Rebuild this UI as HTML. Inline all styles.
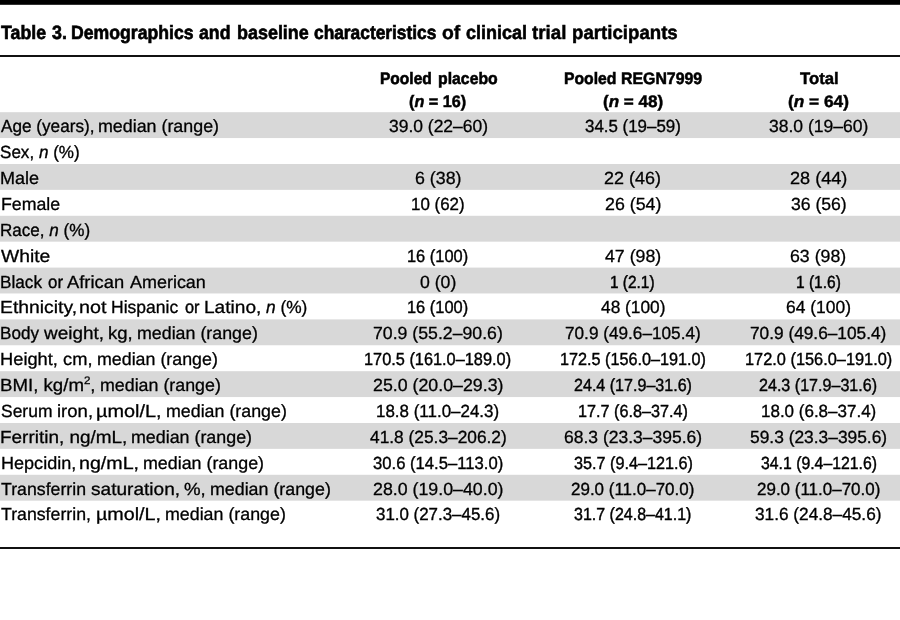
<!DOCTYPE html>
<html lang="en">
<head>
<meta charset="utf-8">
<title>Table 3. Demographics and baseline characteristics of clinical trial participants</title>
<style>
html,body{margin:0;padding:0;background:#fff;}
#page{will-change:transform;position:relative;width:900px;height:620px;overflow:hidden;background:#fff;color:#000;font-family:'Liberation Sans', 'DejaVu Sans', sans-serif;}
.bg{position:absolute;left:0;top:0;display:block;}
.w{margin:0;padding:0;font-size:0;line-height:0;height:0;font-weight:normal;}
.t{text-rendering:geometricPrecision;position:absolute;white-space:nowrap;line-height:26px;height:26px;transform-origin:0 50%;color:#000;}
.title{font-weight:bold;font-size:19.3px;}
.th{font-weight:bold;font-size:16.6px;}
.lab,.val{font-size:17.6px;}
.t i{font-style:italic;}
.t sup{font-size:0.62em;line-height:0;vertical-align:baseline;position:relative;top:-0.62em;}
</style>
</head>
<body>
<div id="page">
<svg class="bg" width="900" height="620" viewBox="0 0 900 620" aria-hidden="true">
<rect x="0" y="0" width="900" height="4.8" fill="#000"/>
<rect x="0" y="55" width="900" height="2" fill="#111"/>
<rect x="0" y="112.20" width="900" height="25.85" fill="#d8d8d8"/>
<rect x="0" y="164.00" width="900" height="25.85" fill="#d8d8d8"/>
<rect x="0" y="215.80" width="900" height="25.85" fill="#d8d8d8"/>
<rect x="0" y="267.60" width="900" height="25.85" fill="#d8d8d8"/>
<rect x="0" y="319.40" width="900" height="25.85" fill="#d8d8d8"/>
<rect x="0" y="371.20" width="900" height="25.85" fill="#d8d8d8"/>
<rect x="0" y="423.00" width="900" height="25.85" fill="#d8d8d8"/>
<rect x="0" y="474.80" width="900" height="25.85" fill="#d8d8d8"/>
<rect x="0" y="547" width="900" height="2" fill="#111"/>
</svg>

<h1 class="w">
<span class="t title" style="left:1.18px;top:21.00px;-webkit-text-stroke:0.63px #000;transform:scaleX(0.9206)">Table</span>
<span class="t title" style="left:52.08px;top:21.00px;-webkit-text-stroke:0.62px #000;transform:scaleX(0.9245)">3.</span>
<span class="t title" style="left:71.49px;top:21.00px;-webkit-text-stroke:0.64px #000;transform:scaleX(0.9147)">Demographics</span>
<span class="t title" style="left:199.07px;top:21.00px;-webkit-text-stroke:0.64px #000;transform:scaleX(0.9173)">and</span>
<span class="t title" style="left:237.49px;top:21.00px;-webkit-text-stroke:0.61px #000;transform:scaleX(0.9304)">baseline</span>
<span class="t title" style="left:313.88px;top:21.00px;-webkit-text-stroke:0.68px #000;transform:scaleX(0.8990)">characteristics</span>
<span class="t title" style="left:442.03px;top:21.00px;-webkit-text-stroke:0.45px #000;transform:scaleX(1.0017)">of</span>
<span class="t title" style="left:466.14px;top:21.00px;-webkit-text-stroke:0.60px #000;transform:scaleX(0.9342)">clinical</span>
<span class="t title" style="left:532.12px;top:21.00px;-webkit-text-stroke:0.51px #000;transform:scaleX(0.9728)">trial</span>
<span class="t title" style="left:571.76px;top:21.00px;-webkit-text-stroke:0.52px #000;transform:scaleX(0.9676)">participants</span>
</h1>
<div class="w colhead">
<span class="t th" style="left:379.72px;top:66.00px;-webkit-text-stroke:0.59px #000;transform:scaleX(0.9371)">Pooled</span>
<span class="t th" style="left:437.80px;top:66.00px;-webkit-text-stroke:0.55px #000;transform:scaleX(0.9526)">placebo</span>
<span class="t th" style="left:409.40px;top:89.00px;-webkit-text-stroke:0.50px #000;transform:scaleX(0.9765)">(<i>n</i> = 16)</span>
</div>
<div class="w colhead">
<span class="t th" style="left:563.61px;top:66.00px;-webkit-text-stroke:0.56px #000;transform:scaleX(0.9486)">Pooled</span>
<span class="t th" style="left:621.03px;top:66.00px;-webkit-text-stroke:0.54px #000;transform:scaleX(0.9568)">REGN7999</span>
<span class="t th" style="left:603.08px;top:89.00px;-webkit-text-stroke:0.45px #000;transform:scaleX(1.0289)">(<i>n</i> = 48)</span>
</div>
<div class="w colhead">
<span class="t th" style="left:799.52px;top:66.00px;-webkit-text-stroke:0.45px #000;transform:scaleX(1.0090)">Total</span>
<span class="t th" style="left:788.47px;top:89.00px;-webkit-text-stroke:0.45px #000;transform:scaleX(1.0407)">(<i>n</i> = 64)</span>
</div>
<div class="w row">
<span class="t lab" style="left:0.63px;top:113.00px;-webkit-text-stroke:0.33px #000;transform:scaleX(0.9753)">Age (years),</span>
<span class="t lab" style="left:98.27px;top:113.00px;-webkit-text-stroke:0.30px #000;transform:scaleX(1.0142)">median (range)</span>
<span class="t val" style="left:388.68px;top:113.00px;-webkit-text-stroke:0.31px #000;transform:scaleX(0.9927)">39.0 (22–60)</span>
<span class="t val" style="left:585.09px;top:113.00px;-webkit-text-stroke:0.36px #000;transform:scaleX(0.9602)">34.5 (19–59)</span>
<span class="t val" style="left:768.65px;top:113.00px;-webkit-text-stroke:0.31px #000;transform:scaleX(0.9959)">38.0 (19–60)</span>
</div>
<div class="w row">
<span class="t lab" style="left:0.31px;top:139.00px;-webkit-text-stroke:0.34px #000;transform:scaleX(0.9699)">Sex, <i>n</i> (%)</span>
</div>
<div class="w row">
<span class="t lab" style="left:0.11px;top:165.00px;-webkit-text-stroke:0.30px #000;transform:scaleX(1.0253)">Male</span>
<span class="t val" style="left:414.80px;top:165.00px;-webkit-text-stroke:0.30px #000;transform:scaleX(1.0117)">6 (38)</span>
<span class="t val" style="left:604.32px;top:165.00px;-webkit-text-stroke:0.30px #000;transform:scaleX(1.0200)">22 (46)</span>
<span class="t val" style="left:789.83px;top:165.00px;-webkit-text-stroke:0.30px #000;transform:scaleX(1.0296)">28 (44)</span>
</div>
<div class="w row">
<span class="t lab" style="left:0.56px;top:191.00px;-webkit-text-stroke:0.30px #000;transform:scaleX(1.0087)">Female</span>
<span class="t val" style="left:411.08px;top:191.00px;-webkit-text-stroke:0.35px #000;transform:scaleX(0.9614)">10 (62)</span>
<span class="t val" style="left:604.75px;top:191.00px;-webkit-text-stroke:0.30px #000;transform:scaleX(1.0112)">26 (54)</span>
<span class="t val" style="left:790.98px;top:191.00px;-webkit-text-stroke:0.30px #000;transform:scaleX(1.0000)">36 (56)</span>
</div>
<div class="w row">
<span class="t lab" style="left:0.28px;top:217.00px;-webkit-text-stroke:0.34px #000;transform:scaleX(0.9696)">Race, <i>n</i> (%)</span>
</div>
<div class="w row">
<span class="t lab" style="left:0.77px;top:243.00px;-webkit-text-stroke:0.30px #000;transform:scaleX(1.0963)">White</span>
<span class="t val" style="left:407.31px;top:243.00px;-webkit-text-stroke:0.40px #000;transform:scaleX(0.9324)">16 (100)</span>
<span class="t val" style="left:605.24px;top:243.00px;-webkit-text-stroke:0.30px #000;transform:scaleX(1.0086)">47 (98)</span>
<span class="t val" style="left:790.44px;top:243.00px;-webkit-text-stroke:0.30px #000;transform:scaleX(1.0069)">63 (98)</span>
</div>
<div class="w row">
<span class="t lab" style="left:0.25px;top:269.00px;-webkit-text-stroke:0.33px #000;transform:scaleX(0.9767)">Black</span>
<span class="t lab" style="left:47.70px;top:269.00px;-webkit-text-stroke:0.36px #000;transform:scaleX(0.9598)">or</span>
<span class="t lab" style="left:67.49px;top:269.00px;-webkit-text-stroke:0.30px #000;transform:scaleX(1.0425)">African</span>
<span class="t lab" style="left:129.50px;top:269.00px;-webkit-text-stroke:0.30px #000;transform:scaleX(1.0204)">American</span>
<span class="t val" style="left:420.06px;top:269.00px;-webkit-text-stroke:0.30px #000;transform:scaleX(1.0037)">0 (0)</span>
<span class="t val" style="left:610.48px;top:269.00px;-webkit-text-stroke:0.49px #000;transform:scaleX(0.8753)">1 (2.1)</span>
<span class="t val" style="left:795.61px;top:269.00px;-webkit-text-stroke:0.48px #000;transform:scaleX(0.8810)">1 (1.6)</span>
</div>
<div class="w row">
<span class="t lab" style="left:0.43px;top:294.00px;-webkit-text-stroke:0.30px #000;transform:scaleX(1.0988)">Ethnicity,</span>
<span class="t lab" style="left:79.28px;top:294.00px;-webkit-text-stroke:0.30px #000;transform:scaleX(1.1207)">not</span>
<span class="t lab" style="left:111.39px;top:294.00px;-webkit-text-stroke:0.31px #000;transform:scaleX(0.9955)">Hispanic</span>
<span class="t lab" style="left:184.51px;top:294.00px;-webkit-text-stroke:0.40px #000;transform:scaleX(0.9318)">or</span>
<span class="t lab" style="left:204.46px;top:294.00px;-webkit-text-stroke:0.30px #000;transform:scaleX(1.0848)">Latino,</span>
<span class="t lab" style="left:265.58px;top:294.00px;-webkit-text-stroke:0.32px #000;transform:scaleX(0.9840)"><i>n</i> (%)</span>
<span class="t val" style="left:407.31px;top:294.00px;-webkit-text-stroke:0.40px #000;transform:scaleX(0.9324)">16 (100)</span>
<span class="t val" style="left:600.99px;top:294.00px;-webkit-text-stroke:0.32px #000;transform:scaleX(0.9838)">48 (100)</span>
<span class="t val" style="left:786.00px;top:294.00px;-webkit-text-stroke:0.31px #000;transform:scaleX(0.9913)">64 (100)</span>
</div>
<div class="w row">
<span class="t lab" style="left:0.26px;top:320.00px;-webkit-text-stroke:0.34px #000;transform:scaleX(0.9721)">Body</span>
<span class="t lab" style="left:43.93px;top:320.00px;-webkit-text-stroke:0.30px #000;transform:scaleX(1.0757)">weight,</span>
<span class="t lab" style="left:107.66px;top:320.00px;-webkit-text-stroke:0.30px #000;transform:scaleX(1.0536)">kg,</span>
<span class="t lab" style="left:136.60px;top:320.00px;-webkit-text-stroke:0.30px #000;transform:scaleX(1.0128)">median (range)</span>
<span class="t val" style="left:373.48px;top:320.00px;-webkit-text-stroke:0.30px #000;transform:scaleX(1.0051)">70.9 (55.2–90.6)</span>
<span class="t val" style="left:565.15px;top:320.00px;-webkit-text-stroke:0.33px #000;transform:scaleX(0.9769)">70.9 (49.6–105.4)</span>
<span class="t val" style="left:750.45px;top:320.00px;-webkit-text-stroke:0.33px #000;transform:scaleX(0.9812)">70.9 (49.6–105.4)</span>
</div>
<div class="w row">
<span class="t lab" style="left:0.27px;top:346.00px;-webkit-text-stroke:0.30px #000;transform:scaleX(1.0394)">Height, cm,</span>
<span class="t lab" style="left:96.60px;top:346.00px;-webkit-text-stroke:0.30px #000;transform:scaleX(1.0128)">median (range)</span>
<span class="t val" style="left:364.39px;top:346.00px;-webkit-text-stroke:0.41px #000;transform:scaleX(0.9281)">170.5 (161.0–189.0)</span>
<span class="t val" style="left:559.72px;top:346.00px;-webkit-text-stroke:0.42px #000;transform:scaleX(0.9212)">172.5 (156.0–191.0)</span>
<span class="t val" style="left:744.61px;top:346.00px;-webkit-text-stroke:0.40px #000;transform:scaleX(0.9295)">172.0 (156.0–191.0)</span>
</div>
<div class="w row">
<span class="t lab" style="left:0.17px;top:372.00px;-webkit-text-stroke:0.30px #000;transform:scaleX(1.0598)">BMI, kg/m<sup>2</sup>,</span>
<span class="t lab" style="left:99.60px;top:372.00px;-webkit-text-stroke:0.30px #000;transform:scaleX(1.0128)">median (range)</span>
<span class="t val" style="left:372.95px;top:372.00px;-webkit-text-stroke:0.30px #000;transform:scaleX(1.0102)">25.0 (20.0–29.3)</span>
<span class="t val" style="left:573.85px;top:372.00px;-webkit-text-stroke:0.43px #000;transform:scaleX(0.9136)">24.4 (17.9–31.6)</span>
<span class="t val" style="left:759.09px;top:372.00px;-webkit-text-stroke:0.43px #000;transform:scaleX(0.9142)">24.3 (17.9–31.6)</span>
</div>
<div class="w row">
<span class="t lab" style="left:0.89px;top:398.00px;-webkit-text-stroke:0.31px #000;transform:scaleX(0.9925)">Serum</span>
<span class="t lab" style="left:57.26px;top:398.00px;-webkit-text-stroke:0.30px #000;transform:scaleX(1.0526)">iron,</span>
<span class="t lab" style="left:96.24px;top:398.00px;-webkit-text-stroke:0.30px #000;transform:scaleX(1.1286)">µmol/L,</span>
<span class="t lab" style="left:165.60px;top:398.00px;-webkit-text-stroke:0.30px #000;transform:scaleX(1.0128)">median (range)</span>
<span class="t val" style="left:376.19px;top:398.00px;-webkit-text-stroke:0.35px #000;transform:scaleX(0.9632)">18.8 (11.0–24.3)</span>
<span class="t val" style="left:577.72px;top:398.00px;-webkit-text-stroke:0.42px #000;transform:scaleX(0.9206)">17.7 (6.8–37.4)</span>
<span class="t val" style="left:760.54px;top:398.00px;-webkit-text-stroke:0.35px #000;transform:scaleX(0.9658)">18.0 (6.8–37.4)</span>
</div>
<div class="w row">
<span class="t lab" style="left:0.18px;top:424.00px;-webkit-text-stroke:0.30px #000;transform:scaleX(1.0763)">Ferritin, ng/mL,</span>
<span class="t lab" style="left:131.27px;top:424.00px;-webkit-text-stroke:0.30px #000;transform:scaleX(1.0142)">median (range)</span>
<span class="t val" style="left:369.94px;top:424.00px;-webkit-text-stroke:0.32px #000;transform:scaleX(0.9846)">41.8 (25.3–206.2)</span>
<span class="t val" style="left:563.65px;top:424.00px;-webkit-text-stroke:0.31px #000;transform:scaleX(0.9948)">68.3 (23.3–395.6)</span>
<span class="t val" style="left:749.94px;top:424.00px;-webkit-text-stroke:0.32px #000;transform:scaleX(0.9872)">59.3 (23.3–395.6)</span>
</div>
<div class="w row">
<span class="t lab" style="left:0.73px;top:450.00px;-webkit-text-stroke:0.30px #000;transform:scaleX(1.0260)">Hepcidin,</span>
<span class="t lab" style="left:79.49px;top:450.00px;-webkit-text-stroke:0.30px #000;transform:scaleX(1.1170)">ng/mL,</span>
<span class="t lab" style="left:143.00px;top:450.00px;-webkit-text-stroke:0.30px #000;transform:scaleX(1.0143)">median (range)</span>
<span class="t val" style="left:373.10px;top:450.00px;-webkit-text-stroke:0.38px #000;transform:scaleX(0.9461)">30.6 (14.5–113.0)</span>
<span class="t val" style="left:573.51px;top:450.00px;-webkit-text-stroke:0.42px #000;transform:scaleX(0.9215)">35.7 (9.4–121.6)</span>
<span class="t val" style="left:760.52px;top:450.00px;-webkit-text-stroke:0.45px #000;transform:scaleX(0.8988)">34.1 (9.4–121.6)</span>
</div>
<div class="w row">
<span class="t lab" style="left:1.00px;top:476.00px;-webkit-text-stroke:0.30px #000;transform:scaleX(1.0071)">Transferrin</span>
<span class="t lab" style="left:90.92px;top:476.00px;-webkit-text-stroke:0.30px #000;transform:scaleX(1.0838)">saturation,</span>
<span class="t lab" style="left:183.89px;top:476.00px;-webkit-text-stroke:0.30px #000;transform:scaleX(1.0575)">%,</span>
<span class="t lab" style="left:209.60px;top:476.00px;-webkit-text-stroke:0.30px #000;transform:scaleX(1.0128)">median (range)</span>
<span class="t val" style="left:372.95px;top:476.00px;-webkit-text-stroke:0.30px #000;transform:scaleX(1.0102)">28.0 (19.0–40.0)</span>
<span class="t val" style="left:571.28px;top:476.00px;-webkit-text-stroke:0.35px #000;transform:scaleX(0.9652)">29.0 (11.0–70.0)</span>
<span class="t val" style="left:756.88px;top:476.00px;-webkit-text-stroke:0.35px #000;transform:scaleX(0.9652)">29.0 (11.0–70.0)</span>
</div>
<div class="w row">
<span class="t lab" style="left:1.00px;top:501.00px;-webkit-text-stroke:0.30px #000;transform:scaleX(1.0069)">Transferrin,</span>
<span class="t lab" style="left:95.63px;top:501.00px;-webkit-text-stroke:0.30px #000;transform:scaleX(1.1203)">µmol/L,</span>
<span class="t lab" style="left:164.60px;top:501.00px;-webkit-text-stroke:0.30px #000;transform:scaleX(1.0128)">median (range)</span>
<span class="t val" style="left:376.19px;top:501.00px;-webkit-text-stroke:0.36px #000;transform:scaleX(0.9607)">31.0 (27.3–45.6)</span>
<span class="t val" style="left:574.32px;top:501.00px;-webkit-text-stroke:0.44px #000;transform:scaleX(0.9090)">31.7 (24.8–41.1)</span>
<span class="t val" style="left:755.38px;top:501.00px;-webkit-text-stroke:0.33px #000;transform:scaleX(0.9795)">31.6 (24.8–45.6)</span>
</div>
</div>
</body>
</html>
